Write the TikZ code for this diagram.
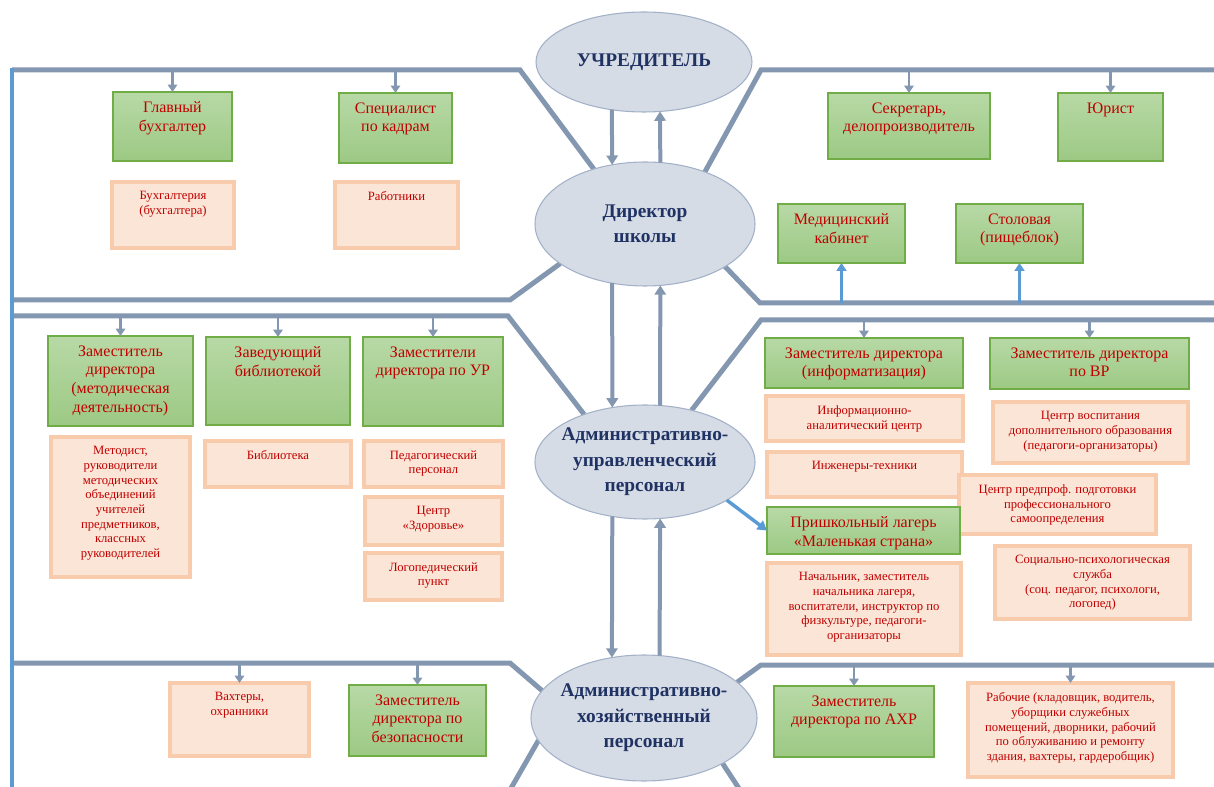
\documentclass[tikz,border=0pt]{standalone}
\usepackage{fontspec}
\setmainfont{Liberation Serif}
\usetikzlibrary{arrows.meta,shapes.geometric,fit,calc}
\definecolor{framec}{HTML}{8497B0}
\definecolor{lblue}{HTML}{5B9BD5}
\definecolor{ellfill}{HTML}{D6DCE5}
\definecolor{elldraw}{HTML}{A3B1C8}
\definecolor{navy}{HTML}{1F3263}
\definecolor{txtred}{HTML}{C00000}
\definecolor{gtop}{HTML}{B8D9A6}
\definecolor{gbot}{HTML}{9CC984}
\definecolor{gdraw}{HTML}{70AD47}
\definecolor{pfill}{HTML}{FBE5D6}
\definecolor{pdraw}{HTML}{F8CBAD}
\pgfdeclarelayer{bg}
\pgfsetlayers{bg,main}
\newcommand\orgbox[7]{%
  \node[#2, fit={(#3,#4) (#5,#6)}] (#1) {};
  \node[#2text, anchor=north] (#1t) at ([yshift=-7pt]#1.north) {#7};
}
\begin{document}
\begin{tikzpicture}[x=0.75pt,y=-0.75pt,
  frameline/.style={draw=framec,line width=3.75pt,line join=miter},
  ell/.style={ellipse,fill=ellfill,draw=elldraw,line width=0.8pt,inner sep=0pt,outer sep=0pt},
  elltext/.style={font=\fontsize{14.5}{19}\selectfont\bfseries,text=navy,align=center,inner sep=0pt},
  gbox/.style={rectangle,top color=gtop,bottom color=gbot,draw=gdraw,line width=0.8pt,inner sep=0pt,outer sep=0pt},
  gboxtext/.style={font=\fontsize{12}{14}\selectfont,text=txtred,align=center,inner sep=0pt},
  pbox/.style={rectangle,fill=pfill,draw=pdraw,line width=2.6pt,inner sep=0pt,outer sep=0pt},
  pboxtext/.style={font=\fontsize{9.5}{11}\selectfont,text=txtred,align=center,inner sep=0pt},
  sarr/.style={draw=framec,line width=2pt,-{Triangle[width=7pt,length=5.5pt]}},
  barr/.style={draw=framec,line width=3pt,-{Triangle[width=8.5pt,length=7pt]}},
  bluarr/.style={draw=lblue,line width=2.2pt,-{Triangle[width=7.5pt,length=6pt]}}
]
\useasboundingbox (0,0) rectangle (1214,787);

% ellipses
\node[ell,minimum width=162pt,minimum height=75pt] (U) at (644,62) {};
\node[ell,minimum width=165pt,minimum height=93pt] (D) at (645,224) {};
\node[ell,minimum width=165pt,minimum height=85.5pt] (A) at (645,462) {};
\node[ell,minimum width=169.5pt,minimum height=94.5pt] (H) at (644,718) {};
\node[elltext] (Ut) at (U) {УЧРЕДИТЕЛЬ};
\node[elltext] (Dt) at (D) {Директор\\школы};
\node[elltext] (At) at (A) {Административно-\\управленческий\\персонал};
\node[elltext] (Ht) at (H) {Административно-\\хозяйственный\\персонал};

% frame coordinates
\coordinate (t1) at (12,70);
\coordinate (m1) at (760,303);
\coordinate (s1) at (12,316);
\coordinate (s2) at (761,320);
\coordinate (b1) at (12,663);
\coordinate (b2) at (761,665);

\begin{pgfonlayer}{bg}
\draw[frameline] (t1) -- (520,70) -- (D.133);
\draw[frameline] (12,300) -- (510,300) -- (D.205);
\draw[frameline] (D.41) -- (761,70) -- (1216,70);
\draw[frameline] (D.332) -- (m1) -- (1216,303);
\draw[frameline] (s1) -- (508,316) -- (A.142);
\draw[frameline] (A.48) -- (s2) -- (1216,320);
\draw[frameline] (b1) -- (510,663) -- (H.165);
\draw[frameline] (H.21) -- (b2) -- (1216,665);
\draw[frameline] (H.192) -- (510,790);
\draw[frameline] (H.330) -- (740,790);
\draw[draw=lblue,line width=3.2pt] (12,68) -- (12,790);
\end{pgfonlayer}

% top band
\orgbox{gb}{gbox}{113}{92}{232}{161}{Главный\\бухгалтер}
\orgbox{sk}{gbox}{339}{93}{452}{163}{Специалист\\по кадрам}
\orgbox{buh}{pbox}{112}{182}{234}{248}{Бухгалтерия\\(бухгалтера)}
\orgbox{rab}{pbox}{335}{182}{458}{248}{Работники}
\orgbox{sec}{gbox}{828}{93}{990}{159}{Секретарь,\\делопроизводитель}
\orgbox{jur}{gbox}{1058}{93}{1163}{161}{Юрист}
\orgbox{med}{gbox}{778}{204}{905}{263}{Медицинский\\кабинет}
\orgbox{sto}{gbox}{956}{204}{1083}{263}{Столовая\\(пищеблок)}

% second band
\orgbox{zm}{gbox}{48}{336}{193}{426}{Заместитель\\директора\\(методическая\\деятельность)}
\orgbox{zb}{gbox}{206}{337}{350}{425}{Заведующий\\библиотекой}
\orgbox{zur}{gbox}{363}{337}{503}{426}{Заместители\\директора по УР}
\orgbox{met}{pbox}{51}{437}{190}{577}{Методист,\\руководители\\методических\\объединений\\учителей\\предметников,\\классных\\руководителей}
\orgbox{bib}{pbox}{205}{441}{351}{487}{Библиотека}
\orgbox{ped}{pbox}{364}{441}{503}{487}{Педагогический\\персонал}
\orgbox{zdr}{pbox}{365}{497}{502}{545}{Центр\\«Здоровье»}
\orgbox{lgp}{pbox}{365}{553}{502}{600}{Логопедический\\пункт}
\orgbox{zi}{gbox}{765}{338}{963}{388}{Заместитель директора\\(информатизация)}
\orgbox{zvr}{gbox}{990}{338}{1189}{389}{Заместитель директора\\по ВР}
\orgbox{iac}{pbox}{766}{396}{963}{441}{Информационно-\\аналитический центр}
\orgbox{cvd}{pbox}{993}{402}{1188}{463}{Центр воспитания\\дополнительного образования\\(педагоги-организаторы)}
\orgbox{ing}{pbox}{767}{452}{962}{497}{Инженеры-техники}
\orgbox{cpp}{pbox}{959}{475}{1156}{534}{Центр предпроф. подготовки\\профессионального\\самоопределения}
\orgbox{lag}{gbox}{767}{507}{960}{554}{Пришкольный лагерь\\«Маленькая страна»}
\orgbox{spl}{pbox}{995}{546}{1190}{619}{Социально-психологическая\\служба\\(соц. педагог, психологи,\\логопед)}
\orgbox{nach}{pbox}{767}{563}{961}{655}{Начальник, заместитель\\начальника лагеря,\\воспитатели, инструктор по\\физкультуре, педагоги-\\организаторы}

% bottom band
\orgbox{vah}{pbox}{170}{683}{309}{756}{Вахтеры,\\охранники}
\orgbox{zbez}{gbox}{349}{685}{486}{756}{Заместитель\\директора по\\безопасности}
\orgbox{zahr}{gbox}{774}{686}{934}{757}{Заместитель\\директора по АХР}
\orgbox{rabo}{pbox}{968}{683}{1173}{777}{Рабочие (кладовщик, водитель,\\уборщики служебных\\помещений, дворники, рабочий\\по облуживанию и ремонту\\здания, вахтеры, гардеробщик)}

% small arrows from frame lines
\foreach \b in {gb,sk,sec,jur}{\draw[sarr] (\b.north |- t1) -- (\b.north);}
\foreach \b in {zm,zb,zur}{\draw[sarr] (\b.north |- s1) -- (\b.north);}
\foreach \b in {zi,zvr}{\draw[sarr] (\b.north |- s2) -- (\b.north);}
\foreach \b in {vah,zbez}{\draw[sarr] (\b.north |- b1) -- (\b.north);}
\foreach \b in {zahr,rabo}{\draw[sarr] (\b.north |- b2) -- (\b.north);}
\foreach \b in {med,sto}{\draw[bluarr] (\b.south |- m1) -- (\b.south);}

% arrows between ellipses
\draw[barr] (U.236) -- (D.119);
\draw[barr] (D.76) -- (U.288);
\draw[barr] (D.241) -- (A.121);
\draw[barr] (A.75) -- (D.284);
\draw[barr] (A.239) -- (H.118);
\draw[barr] (H.76) -- (A.285);
\draw[line width=2.6pt,draw=lblue,-{Triangle[width=8pt,length=7pt]}] (A.335) -- (lag.west);
\end{tikzpicture}
\end{document}
